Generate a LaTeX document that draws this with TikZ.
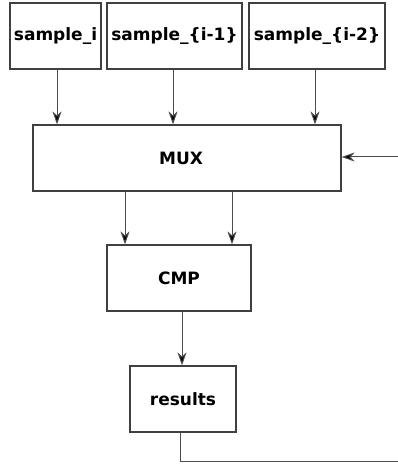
\documentclass[tikz,border=0pt]{standalone}
\usepackage{fontspec}
\setmainfont{DejaVu Sans}
\usetikzlibrary{arrows.meta}
\begin{document}
\begin{tikzpicture}[x=1pt,y=1pt,
  blk/.style={draw=black!75, line width=1.2pt, rectangle, minimum height=66pt,
    inner sep=0pt, font=\fontsize{17}{20}\selectfont\bfseries},
  arr/.style={draw=black!70, line width=1pt,
    -{Stealth[length=13pt,width=9pt,inset=4pt,fill=black]}},
  wire/.style={draw=black!70, line width=1pt}]
\useasboundingbox (0,0) rectangle (398,464);

% input registers
\node[blk, minimum width=91pt]  (si)  at (55.5,428) {sample\_i};
\node[blk, minimum width=135pt] (si1) at (174.5,428) {sample\_\{i-1\}};
\node[blk, minimum width=136pt] (si2) at (317,428) {sample\_\{i-2\}};

% datapath (the MUX label sits a little left of the box centre)
\node[blk, minimum width=308pt] (mux) at (187,306) {MUX\kern12pt};
\node[blk, minimum width=144pt] (cmp) at (179,186) {CMP};
\node[blk, minimum width=106pt] (res) at (183,65) {results};

% feedback loop ends
\coordinate (fbin)  at (398,307);
\coordinate (fbout) at (398,2);

% registers into the multiplexer
\draw[arr] ([xshift=1.5pt]si.south)  -- ([xshift=1.5pt]si.south |- mux.north);
\draw[arr] ([xshift=-1.5pt]si1.south) -- ([xshift=-1.5pt]si1.south |- mux.north);
\draw[arr] ([xshift=-2pt]si2.south)  -- ([xshift=-2pt]si2.south |- mux.north);

% multiplexer outputs into the comparator
\draw[arr] ([xshift=-62pt]mux.south) -- ([xshift=-62pt]mux.south |- cmp.north);
\draw[arr] ([xshift=45pt]mux.south)  -- ([xshift=45pt]mux.south |- cmp.north);

% comparator into results
\draw[arr] ([xshift=3pt]cmp.south) -- ([xshift=3pt]cmp.south |- res.north);

% feedback
\draw[arr] (fbin) -- (fbin -| mux.east);
\draw[wire] ([xshift=-3pt]res.south) |- (fbout);
\end{tikzpicture}
\end{document}
